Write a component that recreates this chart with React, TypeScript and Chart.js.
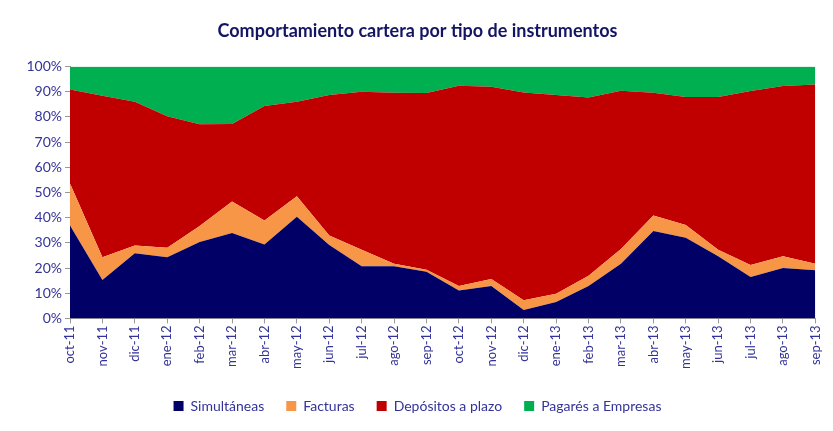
import React, { useEffect, useRef } from "react";
import { Chart, registerables } from "chart.js";

Chart.register(...registerables);

const categories = [
  "oct-11", "nov-11", "dic-11", "ene-12", "feb-12", "mar-12", "abr-12", "may-12",
  "jun-12", "jul-12", "ago-12", "sep-12", "oct-12", "nov-12", "dic-12", "ene-13",
  "feb-13", "mar-13", "abr-13", "may-13", "jun-13", "jul-13", "ago-13", "sep-13",
];

const simultaneas = [
  36.9, 15.2, 25.9, 24.3, 30.3, 33.9, 29.3, 40.4, 29.1, 20.7, 20.7, 18.5,
  11.1, 12.9, 3.3, 6.5, 12.9, 21.7, 34.7, 32.0, 24.7, 16.4, 20.0, 19.1,
];
const facturas = [
  16.7, 9.1, 3.0, 3.8, 6.4, 12.5, 9.6, 8.1, 3.8, 6.6, 1.0, 0.8,
  1.8, 2.7, 3.9, 3.3, 4.0, 5.9, 6.2, 5.1, 2.6, 4.8, 4.7, 2.6,
];
const depositos = [
  37.3, 64.1, 57.1, 52.2, 40.4, 30.8, 45.5, 37.5, 55.8, 62.7, 67.9, 70.2,
  79.5, 76.4, 82.5, 78.9, 70.8, 62.8, 48.7, 50.8, 60.6, 69.1, 67.6, 71.2,
];
const pagares = [
  9.1, 11.6, 14.0, 19.7, 22.9, 22.8, 15.6, 14.0, 11.3, 10.0, 10.4, 10.5,
  7.6, 8.0, 10.3, 11.3, 12.3, 9.6, 10.4, 12.1, 12.1, 9.7, 7.7, 7.1,
];

const seriesNames = ["Simultáneas", "Facturas", "Depósitos a plazo", "Pagarés a Empresas"];
const seriesColors = ["#000066", "#F79646", "#C00000", "#00B050"];

const FONT = "Lato, 'Open Sans', sans-serif";
const TEXT = "#333399";

export default function App() {
  const ref = useRef<HTMLCanvasElement>(null);

  useEffect(() => {
    if (!ref.current) return;
    const data = [simultaneas, facturas, depositos, pagares];
    const chart = new Chart(ref.current, {
      type: "line",
      data: {
        labels: categories,
        datasets: data.map((d, i) => ({
          label: seriesNames[i],
          data: d,
          backgroundColor: seriesColors[i],
          borderColor: seriesColors[i],
          borderWidth: 0,
          pointRadius: 0,
          tension: 0,
          fill: i === 0 ? "origin" : "-1",
        })),
      },
      options: {
        animation: false,
        responsive: false,
        maintainAspectRatio: false,
        layout: { padding: { left: 10, right: 16, top: 0, bottom: 0 } },
        plugins: {
          title: {
            display: true,
            text: "Comportamiento cartera por tipo de instrumentos",
            color: "#141464",
            font: { family: FONT, size: 18, weight: "bold" },
            padding: { top: 12, bottom: 25 },
          },
          legend: {
            position: "bottom",
            labels: {
              color: TEXT,
              font: { family: FONT, size: 14 },
              boxWidth: 10,
              boxHeight: 10,
              padding: 22,
              useBorderRadius: false,
            },
          },
          tooltip: { enabled: false },
        },
        scales: {
          x: {
            offset: false,
            grid: { drawOnChartArea: false, drawTicks: true, tickLength: 5, color: "#999999" },
            border: { color: "#999999" },
            ticks: {
              color: TEXT,
              font: { family: FONT, size: 13 },
              maxRotation: 90,
              minRotation: 90,
              autoSkip: false,
              padding: 2,
            },
            afterFit: (scale: any) => {
              scale.height = scale.height + 6;
            },
          },
          y: {
            stacked: true,
            min: 0,
            max: 100,
            grid: { drawOnChartArea: false, drawTicks: true, tickLength: 5, color: "#999999" },
            border: { color: "#999999" },
            ticks: {
              stepSize: 10,
              color: TEXT,
              font: { family: FONT, size: 14 },
              callback: (v: any) => v + "%",
              padding: 3,
            },
            afterFit: (scale: any) => {
              scale.width = 52;
            },
          },
        },
      },
    });
    return () => chart.destroy();
  }, []);

  return (
    <div style={{ width: 825, height: 415 }}>
      <canvas ref={ref} width={825} height={415} style={{ width: 825, height: 415, display: "block" }} />
    </div>
  );
}
